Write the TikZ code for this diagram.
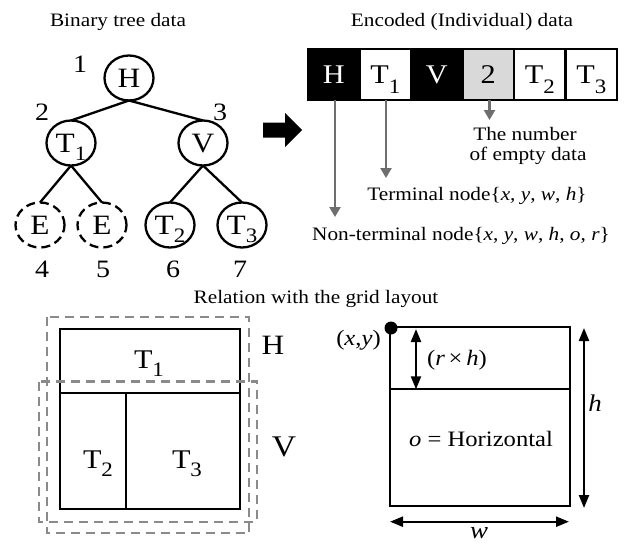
\documentclass[tikz,border=0pt]{standalone}
\usepackage{fontspec}
\setmainfont{Liberation Serif}[FakeStretch=1.12]
\usetikzlibrary{arrows.meta,shapes.geometric}
\newcommand\sbs[1]{\raisebox{-8.5pt}{\fontsize{20.5}{20.5}\selectfont #1}}
\newcommand\sbc[1]{\raisebox{-10.5pt}{\fontsize{20.5}{20.5}\selectfont #1}}
\newcommand\fsz[1]{\fontsize{#1}{#1}\selectfont}
\definecolor{agray}{HTML}{6E6E6E}
\definecolor{dgray}{HTML}{8A8A8A}
\definecolor{cgray}{HTML}{D9D9D9}
\begin{document}
\begin{tikzpicture}[x=1pt,y=-1pt,
  every node/.style={inner sep=0pt, outer sep=0pt},
  txt/.style={font=\fsz{19}, anchor=base},
  num/.style={font=\fsz{25}, anchor=base},
  big/.style={font=\fsz{27}, anchor=base},
  mid/.style={font=\fsz{22}, anchor=base},
  tnode/.style={ellipse, draw, line width=2.3pt, minimum width=49pt, minimum height=45pt,
    font=\fsz{28}, text height=18.5pt, text depth=0pt},
  enode/.style={tnode, dash pattern=on 9pt off 5pt},
  edge/.style={line width=2.3pt},
  cell/.style={draw, line width=2.3pt, minimum width=51.5pt, minimum height=51pt,
    font=\fsz{27}, text height=18pt, text depth=0pt},
  bcell/.style={cell, fill=black, text=white},
  garrow/.style={draw=agray, line width=2.3pt, -{Triangle[width=11pt,length=10pt]}},
  barrow/.style={line width=2.3pt, {Triangle[width=10pt,length=13pt]}-{Triangle[width=10pt,length=13pt]}},
  box/.style={line width=2.3pt},
  dsh/.style={draw=dgray, line width=2.2pt, dash pattern=on 9pt off 6pt}
]
\useasboundingbox (0,0) rectangle (624,543);

% titles
\node[txt] (title1) at (118,27) {Binary tree data};
\node[txt] (title2) at (462,27) {Encoded (Individual) data};
\node[txt] (title3) at (316,303) {Relation with the grid layout};

% tree
\node[tnode] (nH) at (129,78) {H};
\node[tnode] (nT1) at (71,143) {T\sbs{1}};
\node[tnode] (nV) at (203,143) {V};
\node[enode] (nE1) at (40,225) {E};
\node[enode] (nE2) at (102,225) {E};
\node[tnode] (nT2) at (170,225) {T\sbs{2}};
\node[tnode] (nT3) at (242,225) {T\sbs{3}};
\draw[edge] (nH.south) -- (nT1.north);
\draw[edge] (nH.south) -- (nV.north);
\draw[edge] (nT1.south) -- (nE1.north);
\draw[edge] (nT1.south) -- (nE2.north);
\draw[edge] (nV.south) -- (nT2.north);
\draw[edge] (nV.south) -- (nT3.north);
\node[num] (l1) at (80,73) {1};
\node[num] (l2) at (42,120) {2};
\node[num] (l3) at (220,120) {3};
\node[num] (l4) at (42,277) {4};
\node[num] (l5) at (103,277) {5};
\node[num] (l6) at (173,277) {6};
\node[num] (l7) at (240,277) {7};

% block arrow
\fill (263,122.5) -- (285,122.5) -- (285,113) -- (302,130) -- (285,147) -- (285,137.5) -- (263,137.5) -- cycle;

% encoded array
\node[bcell] (c1) at (333.75,74.5) {H};
\node[cell]  (c2) at (385.25,74.5) {T\sbc{1}};
\node[bcell] (c3) at (436.75,74.5) {V};
\node[cell, fill=cgray] (c4) at (488.25,74.5) {2};
\node[cell]  (c5) at (539.75,74.5) {T\sbc{2}};
\node[cell]  (c6) at (591.25,74.5) {T\sbc{3}};

\node[txt] (tnum) at (525,140) {The number};
\node[txt] (tempty) at (528,160) {of empty data};
\node[txt] (tterm) at (477,200) {Terminal node\{\textit{x}, \textit{y}, \textit{w}, \textit{h}\}};
\node[txt] (tnon) at (461,240) {Non-terminal node\{\textit{x}, \textit{y}, \textit{w}, \textit{h}, \textit{o}, \textit{r}\}};
\coordinate (e1) at (335,217);
\coordinate (e2) at (386,178);
\coordinate (e4) at (489.5,120);
\draw[garrow] (c1.south -| e1) -- (e1);
\draw[garrow] (c2.south -| e2) -- (e2);
\draw[garrow] (c4.south -| e4) -- (e4);

% left layout
\draw[box] (60,329) rectangle (240,509);
\draw[box] (60,393) -- (240,393);
\draw[box] (125.7,393) -- (125.7,509);
\draw[dsh] (46.7,317.3) rectangle (249.3,533.3);
\draw[dsh] (39.3,381.5) rectangle (256.7,521.7);
\node[big] (gT1) at (149,368) {T\sbs{1}};
\node[big] (gT2) at (98,468) {T\sbs{2}};
\node[big] (gT3) at (187,468) {T\sbs{3}};
\node[big, font=\fsz{28}] (gH) at (273,354) {H};
\node[big, font=\fsz{30}] (gV) at (284,456) {V};

% right layout
\draw[box] (390,326.7) rectangle (570,506);
\draw[box] (390,389.3) -- (570,389.3);
\node[circle, fill, minimum size=13pt] (dot) at (391,328) {};
\node[mid] (xy) at (358.5,345) {(\textit{x},\textit{y})};
\coordinate (rt) at (416,329);
\coordinate (rb) at (416,389.3);
\draw[barrow] (rt) -- (rb);
\node[mid] (rh) at (457,365) {(\textit{r}\,×\,\textit{h})};
\coordinate (ht) at (584,328);
\coordinate (hb) at (584,508);
\draw[barrow] (ht) -- (hb);
\node[big, font=\fsz{24}\itshape] (hl) at (595,411.7) {h};
\coordinate (wl) at (390,521.7);
\coordinate (wr) at (569,521.7);
\draw[barrow] (wl) -- (wr);
\node[big, font=\fsz{24}\itshape] (wlab) at (479,538) {w};
\node[mid] (ohz) at (481,446.7) {\textit{o} = Horizontal};
\end{tikzpicture}
\end{document}
